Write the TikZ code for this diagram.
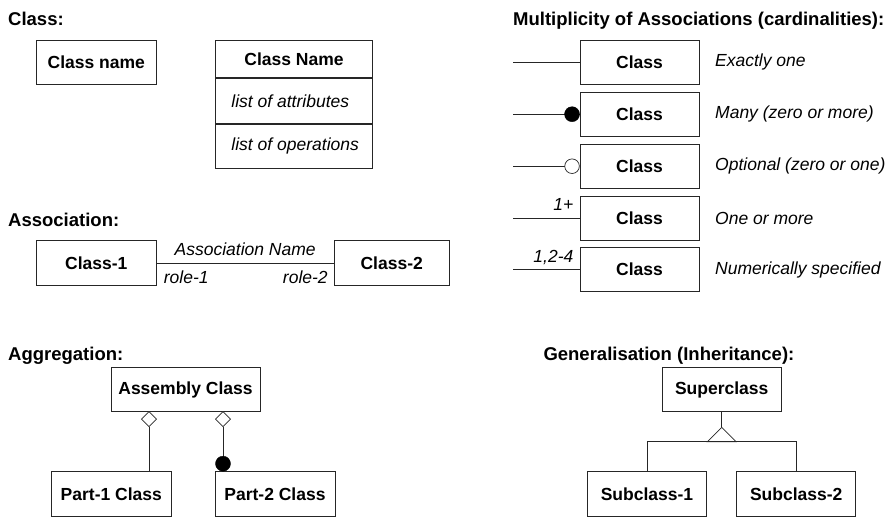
\documentclass[tikz,border=0pt]{standalone}
\usepackage{fontspec}
\setmainfont{Liberation Sans}
\usetikzlibrary{calc}
\begin{document}
\begin{tikzpicture}[x=1pt,y=-1pt,
  heading/.style={anchor=base west, inner sep=0pt, font=\bfseries\fontsize{18.5}{22}\selectfont},
  umlbox/.style={draw=black!85, fill=white, line width=0.9pt, inner sep=0pt,
    minimum height=44.4pt, font=\bfseries\fontsize{17.5}{21}\selectfont},
  compart/.style={draw=black!85, line width=0.9pt, inner sep=0pt,
    minimum width=156.6pt, minimum height=44.4pt},
  note/.style={inner sep=0pt, font=\itshape\fontsize{17.5}{21}\selectfont},
  connector/.style={draw=black!85, line width=0.9pt},
  blackdot/.style={fill=black, draw=black},
  whitedot/.style={fill=white, draw=black!85},
]
\useasboundingbox (0,0) rectangle (889,517);

% ---------------- Class ----------------
\node[heading] (hclass) at (8,25) {Class:};
\node[umlbox, minimum width=119.3pt, minimum height=44pt] (cname) at (96.3,62) {Class name};
\node[umlbox, minimum width=156.6pt, minimum height=37.3pt, anchor=north] (chead) at (294,40) {Class Name};
\node[compart, anchor=north] (cattr) at (chead.south) {};
\node[compart, anchor=north] (cops) at (cattr.south) {};
\node[note, anchor=west] (tattr) at ($(cattr.west)+(16,0)$) {list of attributes};
\node[note, anchor=west] (tops) at ($(cops.west)+(16,0)$) {list of operations};

% ---------------- Multiplicity ----------------
\node[heading] (hmult) at (513,25) {Multiplicity of Associations (cardinalities):};
\foreach \i/\y/\txt in {1/62/Exactly one, 2/114.2/Many (zero or more),
                        3/166.2/Optional (zero or one), 4/218/One or more,
                        5/269.5/Numerically specified} {
  \node[umlbox, minimum width=119pt, minimum height=44pt] (m\i) at (639.5,\y) {Class};
  \coordinate (e\i) at (513.3,\y);
  \node[note, anchor=west] (t\i) at (715,\y) {\txt};
}
\draw[connector] (e1) -- (m1.west);
\draw[connector] (e2) -- (m2.west);
\draw[blackdot] ($(m2.west)+(-7.5,0)$) circle (7.5);
\draw[connector] (e3) -- ($(m3.west)+(-15,0)$);
\draw[whitedot, line width=0.7pt] ($(m3.west)+(-7.5,0)$) circle (7.3);
\draw[connector] (e4) -- (m4.west);
\node[note, anchor=base east] (n4) at ($(m4.west)+(-6,-7.3)$) {1+};
\draw[connector] (e5) -- (m5.west);
\node[note, anchor=base east] (n5) at ($(m5.west)+(-6,-6.8)$) {1,2-4};

% ---------------- Association ----------------
\node[heading] (hassoc) at (8,226.7) {Association:};
\node[umlbox, minimum width=119.3pt, minimum height=45pt] (a1) at (96.3,263.2) {Class-1};
\node[umlbox, minimum width=114.7pt, minimum height=45pt] (a2) at (391.7,263.2) {Class-2};
\draw[connector] (a1.east) -- (a2.west)
  node[note, midway, anchor=base, yshift=7.7pt] (aname) {Association Name};
\node[note, anchor=base west] (r1) at ($(a1.east)+(7.3,20.5)$) {role-1};
\node[note, anchor=base east] (r2) at ($(a2.west)+(-6,20.5)$) {role-2};

% ---------------- Aggregation ----------------
\node[heading] (hagg) at (8,360) {Aggregation:};
\node[umlbox, minimum width=149pt] (asm) at (185.5,389.5) {Assembly Class};
\node[umlbox, minimum width=119.3pt] (p1) at (111.3,493.8) {Part-1 Class};
\node[umlbox, minimum width=120pt] (p2) at (275,493.8) {Part-2 Class};
\coordinate (d1) at (149,411.7);
\coordinate (d2) at (223,411.7);
\foreach \d in {d1,d2} {
  \draw[connector, fill=white, line width=0.7pt] (\d) -- ++(7.5,7.5) -- ++(-7.5,7.5) -- ++(-7.5,-7.5) -- cycle;
}
\draw[connector] ($(d1)+(0,15)$) -- (d1 |- p1.north);
\draw[connector] ($(d2)+(0,15)$) -- (d2 |- p2.north);
\draw[blackdot] ($(d2 |- p2.north)+(0,-7.5)$) circle (7.5);

% ---------------- Generalisation ----------------
\node[heading] (hgen) at (543.3,360) {Generalisation (Inheritance):};
\node[umlbox, minimum width=118.7pt] (sup) at (721.7,389.5) {Superclass};
\node[umlbox, minimum width=119.4pt] (s1) at (647,493.8) {Subclass-1};
\node[umlbox, minimum width=119pt] (s2) at (796.2,493.8) {Subclass-2};
\coordinate (apex) at (721.7,427.3);
\coordinate (bar) at (721.7,441.7);
\draw[connector] (sup.south) -- (apex);
\draw[connector, line width=0.7pt] (apex) -- ++(14.4,14.4) -- ++(-28.8,0) -- cycle;
\draw[connector] (s1.north) -- (s1.north |- bar) -- (s2.north |- bar) -- (s2.north);
\end{tikzpicture}
\end{document}
